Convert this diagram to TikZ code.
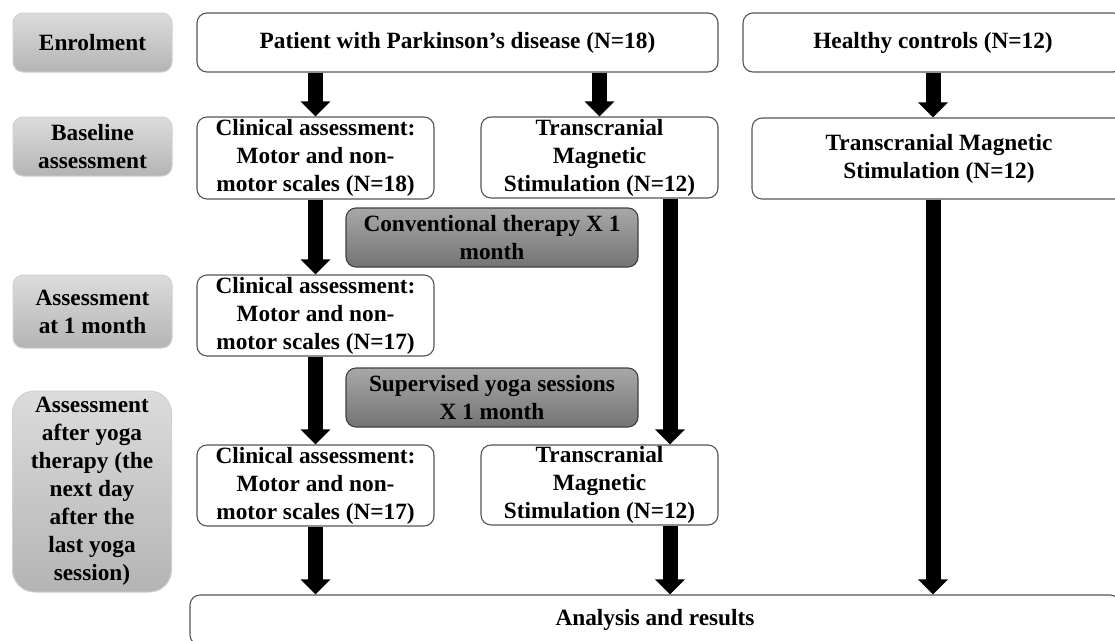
\documentclass[tikz,border=0pt]{standalone}
\usepackage{fontspec}
\setmainfont{Liberation Serif}
\usetikzlibrary{arrows.meta}
\definecolor{lgtop}{HTML}{DCDCDC}
\definecolor{lgbot}{HTML}{B4B4B4}
\definecolor{dgtop}{HTML}{A8A8A8}
\definecolor{dgbot}{HTML}{747474}
\definecolor{edge}{HTML}{555555}
\begin{document}
\begin{tikzpicture}[x=1pt,y=-1pt,
  txt/.style={align=center, inner sep=0pt, font=\fontsize{23.3}{28}\selectfont\bfseries},
  box/.style={txt, draw=edge, line width=1.1pt, rounded corners=10pt, fill=white},
  lab/.style={txt, draw=black!18, line width=1pt, rounded corners=10pt, top color=lgtop, bottom color=lgbot, minimum width=159pt},
  dark/.style={txt, draw=black!75, line width=1.1pt, rounded corners=10pt, top color=dgtop, bottom color=dgbot, minimum width=292pt, minimum height=59pt},
  bigarrow/.style={line width=15pt, -{Triangle[length=15pt,width=29pt]}}]
\useasboundingbox (0,0) rectangle (1115,640);
\clip (0,0) rectangle (1115,640);
\fill[white] (0,0) rectangle (1115,640);

% left labels
\node[lab, minimum height=59pt] (enrol) at (92.5,42.5) {Enrolment};
\node[lab, minimum height=59pt] (base) at (92.5,146.5) {Baseline\\assessment};
\node[lab, minimum height=73pt] (month) at (92.5,311.5) {Assessment\\at 1 month};
\node[lab, minimum height=201pt, rounded corners=22pt] (after) at (92,491.5) {Assessment\\after yoga\\therapy (the\\next day\\after the\\last yoga\\session)};

% main boxes
\node[box, minimum width=521pt, minimum height=59pt] (patient) at (457.5,42.5) {Patient with Parkinson’s disease (N=18)};
\node[box, minimum width=380pt, minimum height=59pt] (healthy) at (933,42.5) {Healthy controls (N=12)};
\node[box, minimum width=237pt, minimum height=82pt] (clin1) at (315.5,158) {Clinical assessment:\\Motor and non-\\motor scales (N=18)};
\node[box, minimum width=237pt, minimum height=81pt] (tms1) at (599.5,157.5) {Transcranial\\Magnetic\\Stimulation (N=12)};
\node[box, minimum width=374pt, minimum height=81pt] (tmsH) at (939,158.5) {Transcranial Magnetic\\Stimulation (N=12)};
\node[dark] (conv) at (492,237.5) {Conventional therapy X 1\\month};
\node[box, minimum width=237pt, minimum height=81pt] (clin2) at (315.5,315.5) {Clinical assessment:\\Motor and non-\\motor scales (N=17)};
\node[dark] (yoga) at (492,397.5) {Supervised yoga sessions\\X 1 month};
\node[box, minimum width=237pt, minimum height=81pt] (clin3) at (315.5,485.5) {Clinical assessment:\\Motor and non-\\motor scales (N=17)};
\node[box, minimum width=237pt, minimum height=80pt] (tms2) at (599.5,485) {Transcranial\\Magnetic\\Stimulation (N=12)};
\node[box, minimum width=930pt, minimum height=50pt] (analysis) at (655,620) {Analysis and results};

% connectors
\coordinate (tmsx) at (670,0);
\draw[bigarrow] (patient.south -| clin1.north) -- (clin1.north);
\draw[bigarrow] (patient.south -| tms1.north) -- (tms1.north);
\draw[bigarrow] (healthy.south) -- (healthy.south |- tmsH.north);
\draw[bigarrow] (clin1.south) -- (clin2.north);
\draw[bigarrow] (clin2.south) -- (clin3.north);
\draw[bigarrow] (clin3.south) -- (clin3.south |- analysis.north);
\draw[bigarrow] (tms1.south -| tmsx) -- (tms2.north -| tmsx);
\draw[bigarrow] (tms2.south -| tmsx) -- (analysis.north -| tmsx);
\draw[bigarrow] (tmsH.south -| healthy.south) -- (analysis.north -| healthy.south);
\end{tikzpicture}
\end{document}
